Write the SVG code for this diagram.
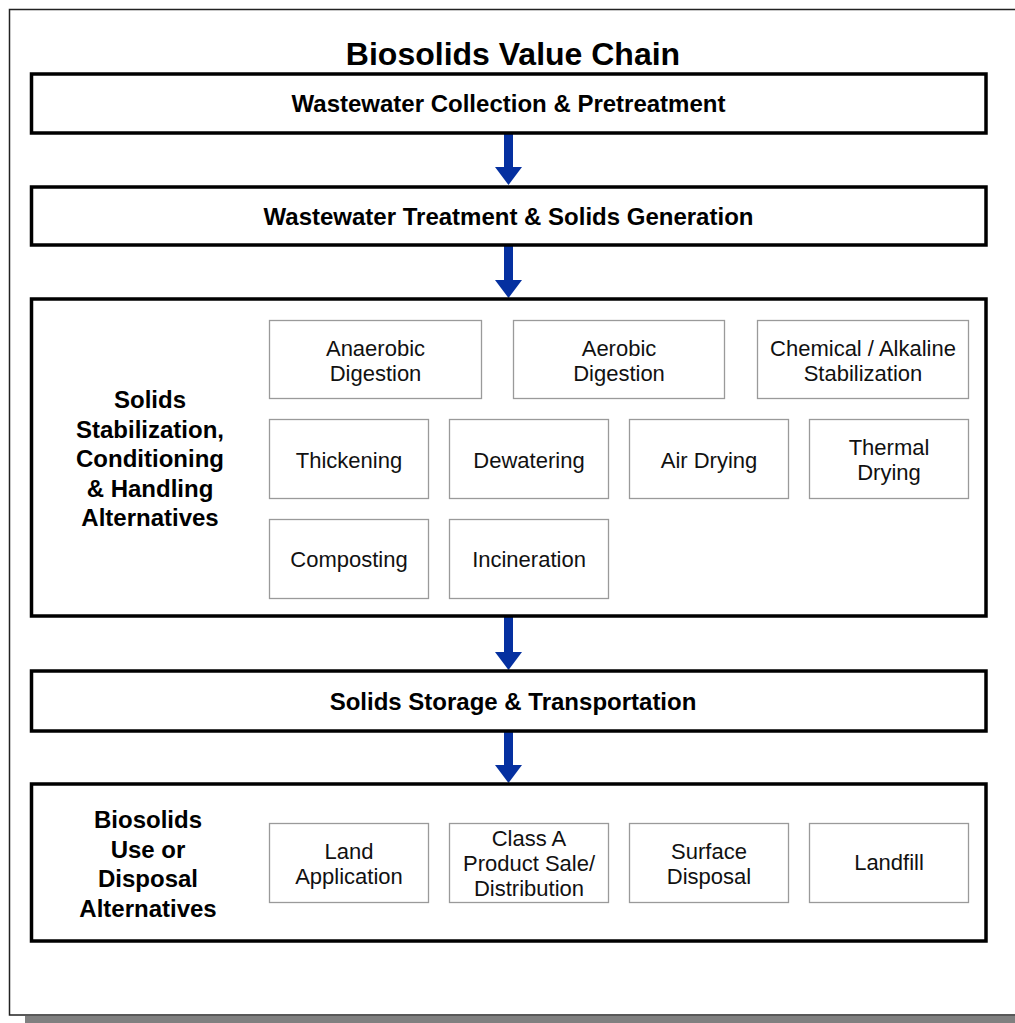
<svg xmlns="http://www.w3.org/2000/svg" width="1015" height="1023" viewBox="0 0 1015 1023">
  <defs>
    <style>
      .frame { fill: #ffffff; stroke: #222222; stroke-width: 1.5; }
      .shadow { fill: #808080; }
      .stage { fill: #ffffff; stroke: #000000; stroke-width: 3.5; }
      .opt { fill: #ffffff; stroke: #9a9a9a; stroke-width: 1.3; }
      .title { font-family: "Liberation Sans", Arial, sans-serif; font-weight: bold; font-size: 32px; fill: #000; text-anchor: middle; }
      .stage-label { font-family: "Liberation Sans", Arial, sans-serif; font-weight: bold; font-size: 24px; fill: #000; text-anchor: middle; }
      .opt-label { font-family: "Liberation Sans", Arial, sans-serif; font-size: 22px; fill: #111; text-anchor: middle; }
      .flow { fill: #0530A0; }
    </style>
    <path id="down-arrow" class="flow" d="M -4.5 0 L 4.5 0 L 4.5 -18 L 13.5 -18 L 0 0 Z"/>
  </defs>

  <!-- page frame with drop shadow -->
  <rect class="shadow" x="25" y="1016" width="1000" height="10"/>
  <rect class="frame" x="9.5" y="9.5" width="1020" height="1005.5"/>

  <text class="title" x="513" y="65">Biosolids Value Chain</text>

  <!-- flow arrows between stages -->
  <g id="connectors">
    <path class="flow" d="M504 133 H513 V167 H522 L508.5 185 L495 167 H504 Z"/>
    <path class="flow" d="M504 245 H513 V280 H522 L508.5 298 L495 280 H504 Z"/>
    <path class="flow" d="M504 616 H513 V652 H522 L508.5 670 L495 652 H504 Z"/>
    <path class="flow" d="M504 731 H513 V765 H522 L508.5 783 L495 765 H504 Z"/>
  </g>

  <g id="collection">
    <rect class="stage" x="31.5" y="74" width="954.5" height="59"/>
    <text class="stage-label" x="508.5" y="112">Wastewater Collection &amp; Pretreatment</text>
  </g>

  <g id="treatment">
    <rect class="stage" x="31.5" y="187" width="954.5" height="58"/>
    <text class="stage-label" x="508.5" y="225">Wastewater Treatment &amp; Solids Generation</text>
  </g>

  <g id="stabilization">
    <rect class="stage" x="31.5" y="299" width="954.5" height="317"/>
    <text class="stage-label" x="150" y="408">Solids</text>
    <text class="stage-label" x="150" y="437.5">Stabilization,</text>
    <text class="stage-label" x="150" y="467">Conditioning</text>
    <text class="stage-label" x="150" y="496.5">&amp; Handling</text>
    <text class="stage-label" x="150" y="526">Alternatives</text>
  </g>

  <g id="anaerobic-digestion">
    <rect class="opt" x="269.5" y="320.5" width="212" height="78"/>
    <text class="opt-label" x="375.5" y="356">Anaerobic</text>
    <text class="opt-label" x="375.5" y="381">Digestion</text>
  </g>
  <g id="aerobic-digestion">
    <rect class="opt" x="513.5" y="320.5" width="211" height="78"/>
    <text class="opt-label" x="619" y="356">Aerobic</text>
    <text class="opt-label" x="619" y="381">Digestion</text>
  </g>
  <g id="chemical-stabilization">
    <rect class="opt" x="757.5" y="320.5" width="211" height="78"/>
    <text class="opt-label" x="863" y="356">Chemical / Alkaline</text>
    <text class="opt-label" x="863" y="381">Stabilization</text>
  </g>

  <g id="thickening">
    <rect class="opt" x="269.5" y="419.5" width="159" height="79"/>
    <text class="opt-label" x="349" y="468">Thickening</text>
  </g>
  <g id="dewatering">
    <rect class="opt" x="449.5" y="419.5" width="159" height="79"/>
    <text class="opt-label" x="529" y="468">Dewatering</text>
  </g>
  <g id="air-drying">
    <rect class="opt" x="629.5" y="419.5" width="159" height="79"/>
    <text class="opt-label" x="709" y="468">Air Drying</text>
  </g>
  <g id="thermal-drying">
    <rect class="opt" x="809.5" y="419.5" width="159" height="79"/>
    <text class="opt-label" x="889" y="455">Thermal</text>
    <text class="opt-label" x="889" y="480">Drying</text>
  </g>

  <g id="composting">
    <rect class="opt" x="269.5" y="519.5" width="159" height="79"/>
    <text class="opt-label" x="349" y="567">Composting</text>
  </g>
  <g id="incineration">
    <rect class="opt" x="449.5" y="519.5" width="159" height="79"/>
    <text class="opt-label" x="529" y="567">Incineration</text>
  </g>

  <g id="storage-transport">
    <rect class="stage" x="31.5" y="671" width="954.5" height="60"/>
    <text class="stage-label" x="513" y="710">Solids Storage &amp; Transportation</text>
  </g>

  <g id="use-disposal">
    <rect class="stage" x="31.5" y="784" width="954.5" height="157"/>
    <text class="stage-label" x="148" y="828">Biosolids</text>
    <text class="stage-label" x="148" y="857.5">Use or</text>
    <text class="stage-label" x="148" y="887">Disposal</text>
    <text class="stage-label" x="148" y="916.5">Alternatives</text>
  </g>

  <g id="land-application">
    <rect class="opt" x="269.5" y="823.5" width="159" height="79"/>
    <text class="opt-label" x="349" y="859">Land</text>
    <text class="opt-label" x="349" y="884">Application</text>
  </g>
  <g id="class-a-sale">
    <rect class="opt" x="449.5" y="823.5" width="159" height="79"/>
    <text class="opt-label" x="529" y="846">Class A</text>
    <text class="opt-label" x="529" y="871">Product Sale/</text>
    <text class="opt-label" x="529" y="896">Distribution</text>
  </g>
  <g id="surface-disposal">
    <rect class="opt" x="629.5" y="823.5" width="159" height="79"/>
    <text class="opt-label" x="709" y="859">Surface</text>
    <text class="opt-label" x="709" y="884">Disposal</text>
  </g>
  <g id="landfill">
    <rect class="opt" x="809.5" y="823.5" width="159" height="79"/>
    <text class="opt-label" x="889" y="870">Landfill</text>
  </g>
</svg>
